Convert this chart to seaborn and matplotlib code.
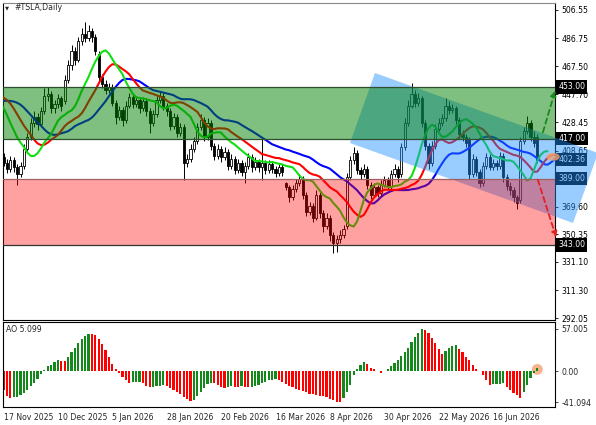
import numpy as np
import pandas as pd
import matplotlib
matplotlib.use("Agg")
import matplotlib.pyplot as plt
import matplotlib.transforms as mtransforms
from matplotlib.patches import Polygon, Ellipse
import seaborn as sns

sns.set_style("white")
plt.rcParams['font.family'] = ['DejaVu Sans']

# ---------------- data ----------------
date_labels = ["17 Nov 2025", "10 Dec 2025", "5 Jan 2026", "28 Jan 2026", "20 Feb 2026",
               "16 Mar 2026", "8 Apr 2026", "30 Apr 2026", "22 May 2026", "16 Jun 2026"]
date_label_bars = [0, 16, 32, 48, 64, 80, 96, 112, 128, 144]

opens = [404, 400, 396, 402, 397, 392, 398, 410, 418, 428,
         432, 427, 436, 447, 448, 438, 441, 445, 443, 458,
         468, 478, 472, 485, 490, 487, 492, 488, 476, 460,
         455, 451, 453, 442, 432, 437, 430, 440, 446, 441,
         444, 438, 443, 436, 428, 434, 444, 447, 440, 436,
         426, 432, 421, 425, 400, 403, 410, 415, 425, 430,
         418, 428, 412, 405, 410, 404, 408, 398, 403, 395,
         400, 394, 398, 404, 397, 401, 397, 400, 395, 399,
         396, 393, 397, 386, 383, 376, 382, 386, 389, 378,
         366, 370, 362, 378, 365, 356, 362, 350, 344, 347,
         350, 356, 390, 402, 407, 395, 392, 396, 385, 378,
         383, 379, 385, 388, 384, 392, 396, 392, 411, 428,
         440, 448, 442, 445, 428, 412, 400, 412, 424, 428,
         431, 440, 437, 438, 430, 420, 418, 416, 392, 403,
         394, 386, 398, 404, 397, 400, 398, 405, 390, 384,
         381, 376, 374, 415, 422, 428, 418, 418]

highs = [407, 403, 405, 404, 399, 401, 413, 421, 431, 436,
         435, 439, 452, 453, 450, 444, 448, 447, 461, 472,
         482, 481, 488, 494, 498, 496, 494, 490, 478, 462,
         458, 456, 455, 444, 440, 439, 443, 449, 448, 447,
         446, 446, 445, 438, 437, 447, 450, 449, 442, 438,
         435, 434, 428, 427, 406, 413, 418, 428, 434, 432,
         431, 430, 414, 413, 412, 411, 410, 406, 405, 403,
         402, 401, 407, 406, 404, 403, 417, 402, 402, 401,
         398, 400, 399, 387, 385, 385, 389, 392, 391, 380,
         373, 372, 381, 380, 367, 365, 364, 352, 350, 353,
         357, 393, 405, 411, 409, 397, 399, 398, 387, 386,
         385, 388, 391, 390, 395, 399, 398, 414, 431, 444,
         456, 451, 449, 447, 430, 414, 415, 427, 431, 434,
         445, 443, 441, 440, 432, 423, 420, 418, 406, 405,
         396, 401, 407, 406, 403, 402, 408, 407, 392, 387,
         383, 378, 418, 425, 433, 430, 422, 420]

lows = [398, 393, 394, 394, 384.5, 390, 396, 408, 416, 425,
        423, 425, 434, 443, 435, 435, 438, 436, 441, 456,
        465, 468, 470, 482, 484, 485, 484, 475, 457, 452,
        448, 449, 440, 427, 430, 426, 428, 438, 438, 439,
        435, 436, 433, 421, 426, 432, 442, 437, 433, 423,
        424, 418, 419, 388, 397, 401, 408, 413, 423, 415,
        416, 409, 402, 403, 401, 402, 395, 396, 392, 393,
        391, 386, 396, 394, 395, 394, 388, 392, 393, 393,
        390, 391, 391, 381, 373, 374, 380, 384, 375, 363,
        364, 359, 360, 362, 352, 354, 346, 337, 338, 344,
        348, 354, 388, 399, 392, 389, 390, 382, 375, 376,
        376, 377, 383, 381, 382, 390, 387, 390, 409, 426,
        438, 439, 440, 425, 409, 396, 398, 410, 422, 426,
        429, 434, 435, 427, 417, 415, 411, 389, 390, 391,
        383, 384, 396, 395, 395, 395, 396, 387, 381, 378,
        373, 368, 372, 413, 420, 415, 411, 400]

closes = [400, 396, 402, 397, 392, 398, 410, 418, 428, 432,
          427, 436, 447, 448, 438, 441, 445, 440, 458, 468,
          478, 472, 485, 490, 487, 492, 488, 478, 460, 455,
          451, 453, 442, 432, 437, 430, 440, 446, 441, 444,
          438, 443, 436, 428, 434, 444, 447, 440, 436, 426,
          432, 421, 425, 400, 403, 410, 415, 425, 430, 418,
          428, 412, 405, 410, 404, 408, 398, 403, 395, 400,
          394, 398, 404, 397, 401, 397, 400, 395, 399, 396,
          393, 397, 394, 383, 376, 382, 386, 389, 378, 366,
          370, 362, 378, 365, 356, 362, 350, 344, 347, 350,
          354, 390, 402, 407, 395, 392, 396, 385, 378, 383,
          379, 385, 388, 384, 392, 396, 390, 411, 428, 440,
          448, 442, 445, 428, 412, 400, 412, 424, 428, 431,
          440, 437, 438, 430, 420, 418, 414, 392, 403, 394,
          386, 398, 404, 397, 400, 398, 405, 390, 384, 381,
          376, 372, 415, 422, 428, 418, 414, 402.36]

# median prices of the bars just before the visible window (estimated from the indicator lines)
pre_median = [446, 444, 442, 438, 432, 424, 414, 406]
jaw_seed, teeth_seed, lips_seed = 443, 448, 448

ao_values = [-25, -33, -36, -35, -34, -32, -29, -25, -20, -15,
             -10, -3, 2, 7, 9, 12, 15, 14.5, 13.5, 20,
             26, 32, 38, 44, 48, 50.5, 50.2, 48.5, 44, 37,
             29, 19, 10, 3, -2, -7, -11, -15, -14.5, -14,
             -13.8, -16, -19, -21, -20.5, -20, -19, -18.5, -19, -22,
             -25, -28, -31, -34, -37, -39.5, -38, -33, -27, -22,
             -17, -15.5, -16, -18.5, -20.5, -22, -21, -20, -20.5, -21,
             -20, -20.5, -21.5, -21, -20, -18, -16, -14, -12, -11,
             -10.5, -11, -14, -17, -19, -21, -23, -25, -26, -28,
             -30, -31, -32, -33, -33.5, -35, -37, -39, -41, -41.09,
             -36, -28, -18, -5, 3, 8, 12, 10, 5, 3,
             1, -1.5, 1, 3, 7, 11, 16, 21, 26, 32,
             39, 46, 52, 57, 56, 51, 45, 38, 30, 24,
             27, 31, 34, 35, 30, 26, 19, 15, 8, 3.6,
             1, -5, -12, -18, -17.5, -17, -16.5, -16, -21, -25,
             -29, -32, -36, -28, -18, -9, -2, 5.099]

green_zone = (417.0, 453.0)
red_zone = (343.0, 389.0)
level_labels = [453.00, 417.00, 402.36, 389.00, 343.00]
price_ticks = [506.55, 486.75, 467.50, 447.70, 428.45, 408.65, 369.60, 350.35, 331.10, 311.30, 292.05]
ao_ticks = [57.005, 0.00, -41.094]
ao_tick_labels = ["57.005", "0.00", "-41.094"]
# rotated channel corners (bar, price)
channel = [(109.26, 462.67), (101.91, 413.92), (167.5, 358.21), (174.85, 406.96)]

N = len(closes)
idx = np.arange(N)
o = np.array(opens, float); h = np.array(highs, float)
l = np.array(lows, float); c = np.array(closes, float)

# ---------------- alligator ----------------
def smma(values, n, seed):
    out, s = [], seed
    for v in values:
        s = (s * (n - 1) + v) / n
        out.append(s)
    return np.array(out)

median_all = list(pre_median) + list((h + l) / 2)
src = np.arange(-len(pre_median), N)
rows = []
for name, n, shift, seed in [("Jaw", 13, 8, jaw_seed), ("Teeth", 8, 5, teeth_seed), ("Lips", 5, 3, lips_seed)]:
    vals = smma(median_all, n, seed)
    for x, v in zip(src + shift, vals):
        if x >= -1:
            rows.append({"bar": x, "value": v, "line": name})
allig = pd.DataFrame(rows)

# ---------------- figure ----------------
W, H = 596, 425
fig = plt.figure(figsize=(W / 100, H / 100), dpi=100)

def frac(x0, y0, x1, y1):
    return [x0 / W, 1 - y1 / H, (x1 - x0) / W, (y1 - y0) / H]

ax = fig.add_axes(frac(3, 3, 555, 320))
ax2 = fig.add_axes(frac(3, 322, 555, 407))

x_left = -0.15
x_right = x_left + 552 / 3.4
for a in (ax, ax2):
    a.set_xlim(x_left, x_right)
    a.set_facecolor("white")
    for s in a.spines.values():
        s.set_color("black")
        s.set_linewidth(0.8)
ax.spines["top"].set_color("#888888")
ax.set_ylim(290.66, 511.42)
ax2.set_ylim(-47.81, 66.41)

# candles
ax.vlines(idx, l, h, color="black", lw=0.7, zorder=2)
up = c >= o
bb = np.minimum(o, c)
bh = np.maximum(np.abs(c - o), 0.5)
ax.bar(idx[up], bh[up], bottom=bb[up], width=0.62, color="white", edgecolor="black", linewidth=0.6, zorder=2.2)
ax.bar(idx[~up], bh[~up], bottom=bb[~up], width=0.62, color="black", edgecolor="black", linewidth=0.6, zorder=2.2)

# alligator lines
sns.lineplot(data=allig, x="bar", y="value", hue="line",
             palette={"Jaw": "#0000ff", "Teeth": "#ff0000", "Lips": "#10e010"},
             hue_order=["Jaw", "Teeth", "Lips"], legend=False, linewidth=1.5, ax=ax, zorder=3)
ax.set_xlabel(""); ax.set_ylabel("")

# price level label boxes (right scale)
btrans = mtransforms.blended_transform_factory(ax.transAxes, ax.transData)
for v in level_labels:
    ax.text(1.006, v, f"{v:.2f}", transform=btrans, ha="left", va="center", color="white",
            fontsize=5.6, zorder=3.6, clip_on=False,
            bbox=dict(boxstyle="square,pad=0.28", fc="black", ec="none"))

# channel
ax.add_patch(Polygon(channel, closed=True, fc="#1E90FF", ec="none", alpha=0.45, zorder=4, clip_on=False))

# zones
ax.axhspan(*green_zone, color="#008000", alpha=0.5, lw=0, zorder=5)
ax.axhspan(*red_zone, color="#ff0000", alpha=0.37, lw=0, zorder=5)
for v, col in [(green_zone[0], "#2e4e2e"), (green_zone[1], "#2e4e2e"), (red_zone[1], "#a06060"), (red_zone[0], "#333333")]:
    ax.axhline(v, color=col, lw=0.9, zorder=5.1)

# forecast arrows
ax.annotate("", xy=(162.5, 452.2), xytext=(158.4, 419.5), annotation_clip=False, zorder=7,
            arrowprops=dict(arrowstyle="-|>", color="#1a8a1a", lw=1.3, linestyle=(0, (3, 2)), mutation_scale=8))
ax.annotate("", xy=(162.8, 346.4), xytext=(156.9, 390.2), annotation_clip=False, zorder=7,
            arrowprops=dict(arrowstyle="-|>", color="#e52020", lw=1.3, linestyle=(0, (3, 2)), mutation_scale=8))

# highlight blobs
ax.add_patch(Ellipse((161.6, 404.3), width=4.0, height=5.5, fc="#f4a070", ec="none", alpha=0.8, zorder=7, clip_on=False))
ax2.add_patch(Ellipse((157, 2.7), width=3.2, height=14.5, fc="#f4a070", ec="none", alpha=0.8, zorder=1))

# y ticks right
ax.yaxis.tick_right()
ax.set_yticks(price_ticks)
ax.set_yticklabels([f"{v:.2f}" for v in price_ticks])
ax.tick_params(axis="y", length=2.5, width=0.6, pad=2, labelsize=5.6, colors="black", direction="out")
ax.set_xticks([])

# title texts
ax.text((5 - 3) / 552, 1 - (8 - 3) / 317, "\u25bc", transform=ax.transAxes, fontsize=3.8, va="center", ha="left")
ax.text((14 - 3) / 552, 1 - (8 - 3) / 317, "#TSLA,Daily", transform=ax.transAxes, fontsize=5.6, va="center", ha="left")

# AO
ao = np.array(ao_values, float)
ao_colors = ["#ff0000"] + ["#14881a" if ao[i] > ao[i - 1] else "#ff0000" for i in range(1, N)]
ax2.bar(idx, ao, width=0.62, color=ao_colors, linewidth=0, zorder=2)
ax2.text(0.006, 1 - (329 - 322) / 85, f"AO {ao_values[-1]:.3f}", transform=ax2.transAxes,
         fontsize=5.6, va="center", ha="left")
ax2.yaxis.tick_right()
ax2.set_yticks(ao_ticks)
ax2.set_yticklabels(ao_tick_labels)
ax2.tick_params(axis="y", length=2.5, width=0.6, pad=2, labelsize=5.6, direction="out")
ax2.set_xticks(date_label_bars)
ax2.set_xticklabels(date_labels)
for t in ax2.get_xticklabels():
    t.set_ha("left")
ax2.tick_params(axis="x", length=2.5, width=0.6, pad=1.5, labelsize=5.6, direction="out")

fig.savefig("out.png", dpi=100)
